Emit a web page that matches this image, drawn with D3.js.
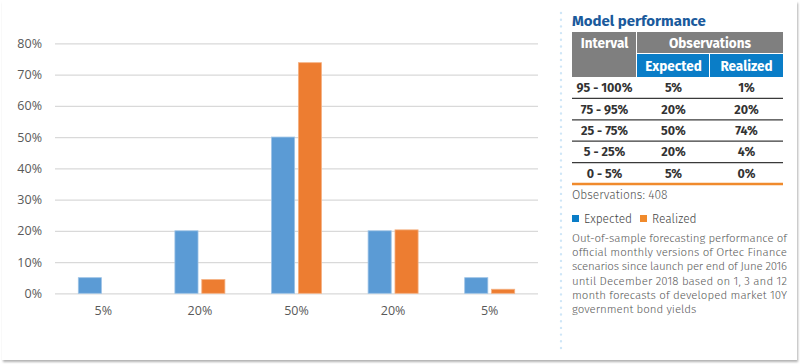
<!DOCTYPE html>
<html>
<head>
<meta charset="utf-8">
<script src="https://cdn.jsdelivr.net/npm/d3@7"></script>
<style>
  html, body { margin: 0; padding: 0; background: #fff; }
  svg { display: block; }
</style>
</head>
<body>
<div class="chart"></div>
<script>
// chart data
const categories = ["5%", "20%", "50%", "20%", "5%"];
const expected = [5, 20, 50, 20, 5];
const realized = [0, 4.4, 73.8, 20.3, 1.3];
const yTicks = [0, 10, 20, 30, 40, 50, 60, 70, 80];

// table data
const intervals = ["95 - 100%", "75 - 95%", "25 - 75%", "5 - 25%", "0 - 5%"];
const tableExpected = ["5%", "20%", "50%", "20%", "5%"];
const tableRealized = ["1%", "20%", "74%", "4%", "0%"];
const observations = 408;
const noteLines = [
    "Out-of-sample forecasting performance of",
    "official monthly versions of Ortec Finance",
    "scenarios since launch per end of June 2016",
    "until December 2018 based on 1, 3 and 12",
    "month forecasts of developed market 10Y",
    "government bond yields"
];

const width = 800;
const height = 364;
const sideFont = "'Fira Sans', 'Noto Sans', 'Open Sans', sans-serif";
const axisFont = "'Segoe UI', 'Open Sans', sans-serif";

const svg = d3.select(".chart")
        .append("svg")
        .attr("width", width)
        .attr("height", height);

const defs = svg.append("defs");
const shadow = defs.append("filter")
        .attr("id", "shadow")
        .attr("x", "-5%").attr("y", "-5%")
        .attr("width", "110%").attr("height", "115%");
shadow.append("feDropShadow")
        .attr("dx", 1).attr("dy", 2)
        .attr("stdDeviation", 1.2)
        .attr("flood-color", "#000")
        .attr("flood-opacity", 0.3);

// card
svg.append("rect")
        .attr("x", 2).attr("y", 1)
        .attr("width", 795).attr("height", 359)
        .attr("fill", "#fff")
        .attr("filter", "url(#shadow)");

// bar chart
const x0 = d3.scaleBand()
        .domain(d3.range(categories.length))
        .range([55, 538]);
const x1 = d3.scaleBand()
        .domain(["expected", "realized"])
        .range([x0.bandwidth() / 2 - 25, x0.bandwidth() / 2 + 25])
        .paddingInner(0.14);
const y = d3.scaleLinear()
        .domain([0, 80])
        .range([293.3, 43.3]);

const yAxis = svg.append("g")
        .attr("transform", "translate(55,0)")
        .call(d3.axisLeft(y).tickValues(yTicks)
                .tickSize(-(538 - 55))
                .tickPadding(13)
                .tickFormat(d => d + "%"));
yAxis.select(".domain").remove();
yAxis.selectAll(".tick line")
        .attr("stroke", "#d9d9d9")
        .attr("stroke-width", 1.3);
yAxis.selectAll(".tick text")
        .attr("fill", "#595959")
        .attr("font-family", axisFont)
        .attr("font-size", 12.5);

const xAxis = svg.append("g")
        .attr("transform", "translate(0,293.3)")
        .call(d3.axisBottom(x0).tickSize(0).tickPadding(13)
                .tickFormat(i => categories[i]));
xAxis.select(".domain").remove();
xAxis.selectAll(".tick text")
        .attr("fill", "#595959")
        .attr("font-family", axisFont)
        .attr("font-size", 12.5);

const rows = categories.map((c, i) => ({ i, expected: expected[i], realized: realized[i] }));
const barColors = { expected: "#5b9bd5", realized: "#ed7d31" };
const barStroke = { expected: "#9dc3e6", realized: "#f4b183" };

const groups = svg.append("g").selectAll("g")
        .data(rows).enter()
        .append("g")
        .attr("transform", d => `translate(${x0(d.i)},0)`);
groups.selectAll("rect")
        .data(d => ["expected", "realized"].map(k => ({ key: k, value: d[k] })))
        .enter()
        .append("rect")
        .attr("x", d => x1(d.key))
        .attr("width", x1.bandwidth())
        .attr("y", d => y(d.value))
        .attr("height", d => y(0) - y(d.value))
        .attr("fill", d => barColors[d.key])
        .attr("stroke", d => d.value > 0 ? barStroke[d.key] : "none")
        .attr("stroke-width", 0.8);

// dotted divider
svg.append("line")
        .attr("x1", 561).attr("x2", 561)
        .attr("y1", 13).attr("y2", 348)
        .attr("stroke", "#cfe6f7")
        .attr("stroke-width", 2.4)
        .attr("stroke-linecap", "round")
        .attr("stroke-dasharray", "0 6.7");

// side panel
const side = svg.append("g").attr("font-family", sideFont);

side.append("text")
        .attr("x", 572).attr("y", 26)
        .attr("fill", "#1a5a9c")
        .attr("font-weight", 700)
        .attr("font-size", 15)
        .text("Model performance");

const colX = [572, 637, 710, 783];
const headGray = "#7f7f7f";
const headBlue = "#0a7dc7";

side.append("rect")
        .attr("x", colX[0]).attr("y", 32)
        .attr("width", colX[1] - colX[0] - 1).attr("height", 45)
        .attr("fill", headGray);
side.append("rect")
        .attr("x", colX[1]).attr("y", 32)
        .attr("width", colX[3] - colX[1]).attr("height", 21)
        .attr("fill", headGray);
side.append("rect")
        .attr("x", colX[1]).attr("y", 54)
        .attr("width", colX[2] - colX[1] - 1).attr("height", 23)
        .attr("fill", headBlue);
side.append("rect")
        .attr("x", colX[2]).attr("y", 54)
        .attr("width", colX[3] - colX[2]).attr("height", 23)
        .attr("fill", headBlue);

const headText = [
    { t: "Interval", x: (colX[0] + colX[1]) / 2, y: 48 },
    { t: "Observations", x: (colX[1] + colX[3]) / 2, y: 48 },
    { t: "Expected", x: (colX[1] + colX[2]) / 2, y: 71 },
    { t: "Realized", x: (colX[2] + colX[3]) / 2, y: 71 }
];
side.selectAll(".head")
        .data(headText).enter()
        .append("text")
        .attr("x", d => d.x).attr("y", d => d.y)
        .attr("text-anchor", "middle")
        .attr("fill", "#fff")
        .attr("font-weight", 700)
        .attr("font-size", 13.5)
        .text(d => d.t);

const rowY = d3.scaleBand()
        .domain(d3.range(intervals.length))
        .range([77, 184]);
const tableRows = side.selectAll(".row")
        .data(intervals.map((iv, i) => [iv, tableExpected[i], tableRealized[i]]))
        .enter()
        .append("g")
        .attr("transform", (d, i) => `translate(0,${rowY(i)})`);
tableRows.selectAll("text")
        .data(d => d).enter()
        .append("text")
        .attr("x", (d, j) => (colX[j] + colX[j + 1]) / 2)
        .attr("y", rowY.bandwidth() / 2 + 4.5)
        .attr("text-anchor", "middle")
        .attr("fill", "#333")
        .attr("font-weight", 700)
        .attr("font-size", 12.5)
        .text(d => d);
tableRows.append("line")
        .attr("x1", colX[0]).attr("x2", colX[3])
        .attr("y1", rowY.bandwidth()).attr("y2", rowY.bandwidth())
        .attr("stroke", (d, i) => i === intervals.length - 1 ? "#f08a2c" : "#3a3a3a")
        .attr("stroke-width", (d, i) => i === intervals.length - 1 ? 2.5 : 1.2);

side.append("text")
        .attr("x", 572).attr("y", 199)
        .attr("fill", "#555")
        .attr("font-weight", 300)
        .attr("font-size", 12)
        .text("Observations: " + observations);

const legend = [
    { t: "Expected", c: headBlue, x: 572 },
    { t: "Realized", c: "#f08a2c", x: 640 }
];
const lg = side.selectAll(".legend")
        .data(legend).enter()
        .append("g")
        .attr("transform", d => `translate(${d.x},215)`);
lg.append("rect")
        .attr("width", 7).attr("height", 7)
        .attr("fill", d => d.c);
lg.append("text")
        .attr("x", 12).attr("y", 8)
        .attr("fill", "#444")
        .attr("font-weight", 300)
        .attr("font-size", 12)
        .text(d => d.t);

side.selectAll(".note")
        .data(noteLines).enter()
        .append("text")
        .attr("x", 572)
        .attr("y", (d, i) => 242 + i * 14.2)
        .attr("fill", "#5a5a5a")
        .attr("font-weight", 300)
        .attr("font-size", 11.5)
        .attr("textLength", (d, i) => i < noteLines.length - 1 ? 215 : null)
        .attr("lengthAdjust", "spacing")
        .text(d => d);
</script>
</body>
</html>
